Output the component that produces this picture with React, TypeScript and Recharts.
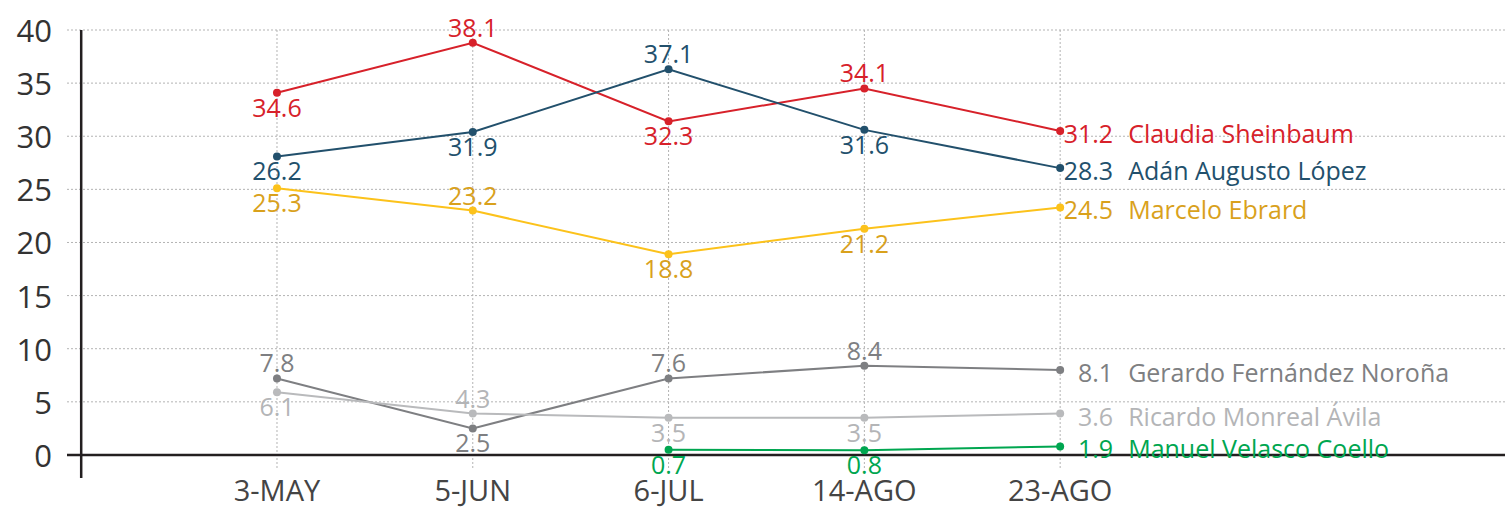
import {
  LineChart,
  Line,
  XAxis,
  YAxis,
  ReferenceLine,
  LabelList,
} from "recharts";

const categories = ["3-MAY", "5-JUN", "6-JUL", "14-AGO", "23-AGO"];
const yTicks = [0, 5, 10, 15, 20, 25, 30, 35, 40];

// plotted positions, read from the points
const claudiaValues = [34.1, 38.8, 31.4, 34.5, 30.5];
const adanValues = [28.1, 30.4, 36.3, 30.6, 27.0];
const marceloValues = [25.1, 23.0, 18.9, 21.3, 23.3];
const gerardoValues = [7.2, 2.5, 7.2, 8.4, 8.0];
const ricardoValues = [5.9, 3.9, 3.5, 3.5, 3.9];
const velascoValues = [null, null, 0.5, 0.45, 0.8];

// printed labels
const claudiaLabels = ["34.6", "38.1", "32.3", "34.1", "31.2"];
const adanLabels = ["26.2", "31.9", "37.1", "31.6", "28.3"];
const marceloLabels = ["25.3", "23.2", "18.8", "21.2", "24.5"];
const gerardoLabels = ["7.8", "2.5", "7.6", "8.4", "8.1"];
const ricardoLabels = ["6.1", "4.3", "3.5", "3.5", "3.6"];
const velascoLabels = [null, null, "0.7", "0.8", "1.9"];

const font = "'Open Sans', sans-serif";

const series = [
  { key: "claudia", name: "Claudia Sheinbaum", values: claudiaValues, labels: claudiaLabels,
    place: ["below", "above", "below", "above", "end"], line: "#d7212a", text: "#d7212a" },
  { key: "adan", name: "Adán Augusto López", values: adanValues, labels: adanLabels,
    place: ["below", "below", "above", "below", "end"], line: "#22506c", text: "#22506c" },
  { key: "marcelo", name: "Marcelo Ebrard", values: marceloValues, labels: marceloLabels,
    place: ["below", "above", "below", "below", "end"], line: "#fcc21b", text: "#d9a11c" },
  { key: "gerardo", name: "Gerardo Fernández Noroña", values: gerardoValues, labels: gerardoLabels,
    place: ["above", "below", "above", "above", "end"], line: "#7e7f82", text: "#7e7f82" },
  { key: "ricardo", name: "Ricardo Monreal Ávila", values: ricardoValues, labels: ricardoLabels,
    place: ["below", "above", "below", "below", "end"], line: "#b9babc", text: "#b4b5b7" },
  { key: "velasco", name: "Manuel Velasco Coello", values: velascoValues, labels: velascoLabels,
    place: ["none", "none", "below", "below", "end"], line: "#00a650", text: "#00a650" },
];

const data = categories.map((c, i) => {
  const row: any = { idx: i, cat: c };
  series.forEach((s) => {
    row[s.key] = s.values[i];
  });
  return row;
});

function pointLabel(s: any) {
  return (props: any) => {
    const { x, y, index } = props;
    const text = s.labels[index];
    const place = s.place[index];
    if (text == null || x == null || y == null || place === "none") return null;
    if (place === "end") {
      return (
        <g>
          <text x={x + 53} y={y + 12} textAnchor="end" fontSize={25} fontFamily={font} fill={s.text}>
            {text}
          </text>
          <text x={x + 68} y={y + 12} textAnchor="start" fontSize={25} fontFamily={font} fill={s.text}>
            {s.name}
          </text>
        </g>
      );
    }
    const ty = place === "above" ? y - 6 : y + 24;
    return (
      <text x={x} y={ty} textAnchor="middle" fontSize={25} fontFamily={font} fill={s.text}>
        {text}
      </text>
    );
  };
}

const XTick = (props: any) => {
  const { x, y, payload } = props;
  return (
    <text x={x} y={y + 23} textAnchor="middle" fontSize={29} fontFamily={font} fill="#444">
      {categories[payload.value]}
    </text>
  );
};

const YTick = (props: any) => {
  const { x, y, payload } = props;
  return (
    <text x={x} y={y + 12} textAnchor="end" fontSize={31} fontFamily={font} fill="#333">
      {payload.value}
    </text>
  );
};

export default function App() {
  return (
    <div style={{ position: "absolute", left: 0, top: 0, width: 1509, height: 510, background: "#fff" }}>
      <LineChart width={1509} height={510} data={data} margin={{ top: 30, right: 4, bottom: 0, left: 0 }}>
        {yTicks.map((t) => (
          <ReferenceLine key={"h" + t} y={t} stroke="#b3b3b3" strokeDasharray="2 2" />
        ))}
        {categories.map((c, i) => (
          <ReferenceLine
            key={c}
            segment={[{ x: i, y: 40 }, { x: i, y: -1.4 }]}
            stroke="#b3b3b3"
            strokeDasharray="2 2"
          />
        ))}
        <XAxis
          dataKey="idx"
          type="number"
          domain={[-1.0725, 6.272]}
          ticks={[0, 1, 2, 3, 4]}
          axisLine={false}
          tickLine={false}
          tickSize={0}
          tickMargin={0}
          height={32}
          tick={<XTick />}
          interval={0}
        />
        <YAxis
          type="number"
          domain={[-2.17, 40]}
          ticks={yTicks}
          axisLine={false}
          tickLine={false}
          tickSize={0}
          tickMargin={15}
          width={67}
          tick={<YTick />}
          interval={0}
        />
        <ReferenceLine x={-1} stroke="#231f20" strokeWidth={2.5} />
        <ReferenceLine y={0} stroke="#231f20" strokeWidth={2.5} />
        {series.map((s) => (
          <Line
            key={s.key}
            dataKey={s.key}
            stroke={s.line}
            strokeWidth={2}
            dot={{ r: 4, fill: s.line, stroke: s.line, strokeWidth: 0 }}
            activeDot={false}
            isAnimationActive={false}
          >
            <LabelList dataKey={s.key} content={pointLabel(s)} />
          </Line>
        ))}
      </LineChart>
    </div>
  );
}
